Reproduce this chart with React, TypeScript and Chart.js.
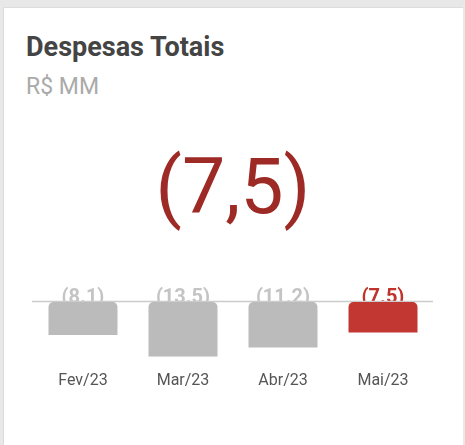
import React, { useEffect, useRef } from "react";
import { Chart, registerables } from "chart.js";

Chart.register(...registerables);

const categories = ["Fev/23", "Mar/23", "Abr/23", "Mai/23"];
const values = [-8.1, -13.5, -11.2, -7.5];
const valueLabels = ["(8.1)", "(13.5)", "(11.2)", "(7.5)"];
const barColors = ["#bbbbbb", "#bbbbbb", "#bbbbbb", "#c23731"];
const labelColors = ["#c4c4c4", "#c4c4c4", "#c4c4c4", "#c0322c"];
const headline = "(7,5)";

export default function App() {
  const ref = useRef<HTMLCanvasElement | null>(null);

  useEffect(() => {
    document.body.style.margin = "0";
    const labelsPlugin = {
      id: "valueLabels",
      beforeDatasetsDraw(chart: any) {
        const ctx = chart.ctx;
        const y0 = chart.scales.y.getPixelForValue(0);
        const meta = chart.getDatasetMeta(0);
        ctx.save();
        ctx.font = "bold 20px Roboto";
        ctx.textAlign = "center";
        ctx.textBaseline = "alphabetic";
        meta.data.forEach((bar: any, i: number) => {
          ctx.fillStyle = labelColors[i];
          ctx.fillText(valueLabels[i], bar.x, y0 + 1);
        });
        ctx.strokeStyle = "#cccccc";
        ctx.lineWidth = 1.5;
        ctx.beginPath();
        ctx.moveTo(chart.chartArea.left - 1, y0 - 0.5);
        ctx.lineTo(chart.chartArea.right, y0 - 0.5);
        ctx.stroke();
        ctx.restore();
      },
    };
    const chart = new Chart(ref.current!, {
      type: "bar",
      data: {
        labels: categories,
        datasets: [
          {
            data: values,
            backgroundColor: barColors,
            borderRadius: { topLeft: 5, topRight: 5, bottomLeft: 0, bottomRight: 0 },
            borderSkipped: false,
            barPercentage: 0.69,
            categoryPercentage: 1,
          },
        ],
      },
      options: {
        responsive: false,
        animation: false,
        layout: { padding: { top: 32, left: 30, right: 30, bottom: 2 } },
        plugins: { legend: { display: false }, tooltip: { enabled: false } },
        scales: {
          y: { display: false, min: -13.5, max: 0 },
          x: {
            grid: { display: false },
            border: { display: false },
            ticks: { color: "#555555", font: { family: "Roboto", size: 16 }, padding: 7 },
          },
        },
      },
      plugins: [labelsPlugin],
    });
    return () => chart.destroy();
  }, []);

  return (
    <div style={{ position: "fixed", inset: 0, background: "#e8e8e8", fontFamily: "Roboto" }}>
      <div
        style={{
          position: "absolute",
          left: 3,
          top: 7,
          width: 460,
          height: 460,
          background: "#ffffff",
          borderLeft: "1px solid #dddddd",
          borderTop: "1px solid #dddddd",
          boxSizing: "border-box",
        }}
      />
      <div style={{ position: "absolute", left: 26, top: 34, fontSize: 27, lineHeight: "27px", fontWeight: 700, color: "#444444", whiteSpace: "nowrap" }}>
        Despesas Totais
      </div>
      <div style={{ position: "absolute", left: 26, top: 75, fontSize: 23, lineHeight: "23px", fontWeight: 400, color: "#aaaaaa", whiteSpace: "nowrap" }}>
        R$ MM
      </div>
      <div style={{ position: "absolute", left: 3, width: 460, top: 149, fontSize: 77, lineHeight: "77px", color: "#9e2a26", textAlign: "center" }}>
        {headline}
      </div>
      <canvas ref={ref} width={460} height={130} style={{ position: "absolute", left: 3, top: 270, width: 460, height: 130 }} />
    </div>
  );
}
